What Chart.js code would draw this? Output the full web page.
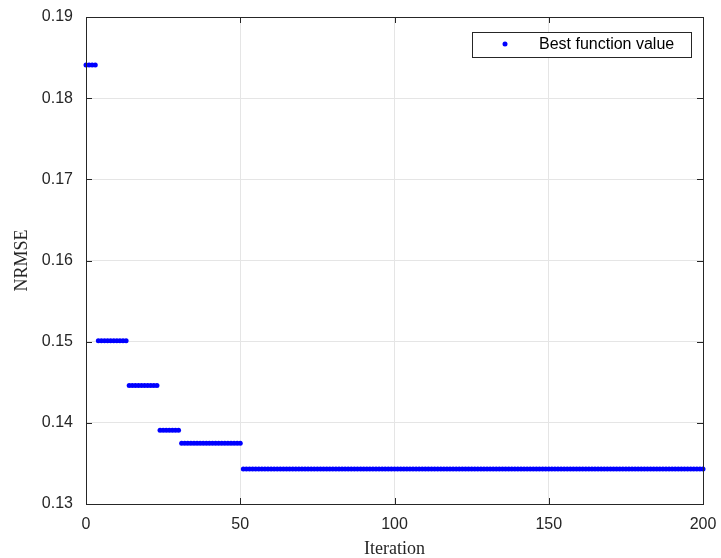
<!DOCTYPE html>
<html>
<head>
<meta charset="utf-8">
<script src="https://cdn.jsdelivr.net/npm/chart.js@4/dist/chart.umd.min.js"></script>
<style>
html, body { margin: 0; padding: 0; background: #fff; }
</style>
</head>
<body>
<canvas id="graficoNrmse" width="721" height="558"></canvas>
<script>
// tramos de la curva (iteracion inicial, final y valor)
const stepStart = [0, 4, 14, 24, 31, 51];
const stepEnd = [3, 13, 23, 30, 50, 200];
const stepValue = [0.1841, 0.1501, 0.1446, 0.1391, 0.1375, 0.1343];
const xTicks = [0, 50, 100, 150, 200];
const yTicks = [0.13, 0.14, 0.15, 0.16, 0.17, 0.18, 0.19];
const legendLabel = 'Best function value';

const points = [];
stepStart.forEach((s, i) => {
    for (let it = s; it <= stepEnd[i]; it++) {
        points.push({ x: it, y: stepValue[i] });
    }
});

// marco, ticks hacia adentro y leyenda estilo matlab
const marcoPlugin = {
    id: 'marco',
    afterDraw(chart) {
        const ctx = chart.ctx;
        const a = chart.chartArea;
        const xs = chart.scales.x, ys = chart.scales.y;
        ctx.save();
        ctx.strokeStyle = '#262626';
        ctx.lineWidth = 1;
        ctx.beginPath();
        xTicks.forEach(v => {
            const px = Math.round(xs.getPixelForValue(v)) + 0.5;
            ctx.moveTo(px, a.bottom); ctx.lineTo(px, a.bottom - 6);
            ctx.moveTo(px, a.top); ctx.lineTo(px, a.top + 6);
        });
        yTicks.forEach(v => {
            const py = Math.round(ys.getPixelForValue(v)) + 0.5;
            ctx.moveTo(a.left, py); ctx.lineTo(a.left + 6, py);
            ctx.moveTo(a.right, py); ctx.lineTo(a.right - 6, py);
        });
        ctx.stroke();
        ctx.strokeRect(Math.round(a.left) + 0.5, Math.round(a.top) + 0.5,
            Math.round(a.right - a.left), Math.round(a.bottom - a.top));

        // leyenda
        ctx.fillStyle = '#fff';
        ctx.fillRect(472, 32, 219, 25);
        ctx.strokeStyle = '#262626';
        ctx.strokeRect(472.5, 32.5, 219, 25);
        ctx.fillStyle = '#0000ff';
        ctx.beginPath();
        ctx.arc(505, 44, 2.5, 0, Math.PI * 2);
        ctx.fill();
        ctx.fillStyle = '#000';
        ctx.font = '16px "Liberation Sans", Arial, sans-serif';
        ctx.textBaseline = 'middle';
        ctx.fillText(legendLabel, 539, 45);
        ctx.restore();
    }
};

const ctx = document.getElementById('graficoNrmse').getContext('2d');
new Chart(ctx, {
    type: 'scatter',
    data: {
        datasets: [{
            label: legendLabel,
            data: points,
            clip: false,
            pointRadius: 2.5,
            pointHoverRadius: 2.5,
            pointBorderWidth: 0,
            backgroundColor: '#0000ff',
            borderColor: '#0000ff'
        }]
    },
    options: {
        responsive: false,
        animation: false,
        layout: { padding: { left: 0, right: 18, top: 17, bottom: 0 } },
        plugins: {
            legend: { display: false },
            tooltip: { enabled: false }
        },
        scales: {
            x: {
                type: 'linear',
                min: 0,
                max: 200,
                afterBuildTicks: scale => { scale.ticks = xTicks.map(v => ({ value: v })); },
                afterFit: scale => {
                    scale.height = 54;
                    scale.paddingLeft = 0;
                    scale.paddingRight = 0;
                },
                grid: { color: '#e5e5e5', drawTicks: false },
                border: { display: false },
                ticks: {
                    padding: 11,
                    color: '#262626',
                    font: { family: '"Liberation Sans", Arial, sans-serif', size: 16 }
                },
                title: {
                    display: true,
                    text: 'Iteration',
                    color: '#262626',
                    padding: { top: 0, bottom: 0 },
                    font: { family: '"Liberation Serif", "Times New Roman", serif', size: 18, lineHeight: 1 }
                }
            },
            y: {
                min: 0.13,
                max: 0.19,
                afterBuildTicks: scale => { scale.ticks = yTicks.map(v => ({ value: v })); },
                afterFit: scale => {
                    scale.width = 86;
                    scale.paddingTop = 0;
                    scale.paddingBottom = 0;
                },
                grid: { color: '#e5e5e5', drawTicks: false },
                border: { display: false },
                ticks: {
                    padding: 13,
                    color: '#262626',
                    font: { family: '"Liberation Sans", Arial, sans-serif', size: 16 },
                    callback: v => v.toFixed(2)
                },
                title: {
                    display: true,
                    text: 'NRMSE',
                    color: '#262626',
                    padding: { top: 11, bottom: 0 },
                    font: { family: '"Liberation Serif", "Times New Roman", serif', size: 18 }
                }
            }
        }
    },
    plugins: [marcoPlugin]
});
</script>
</body>
</html>
